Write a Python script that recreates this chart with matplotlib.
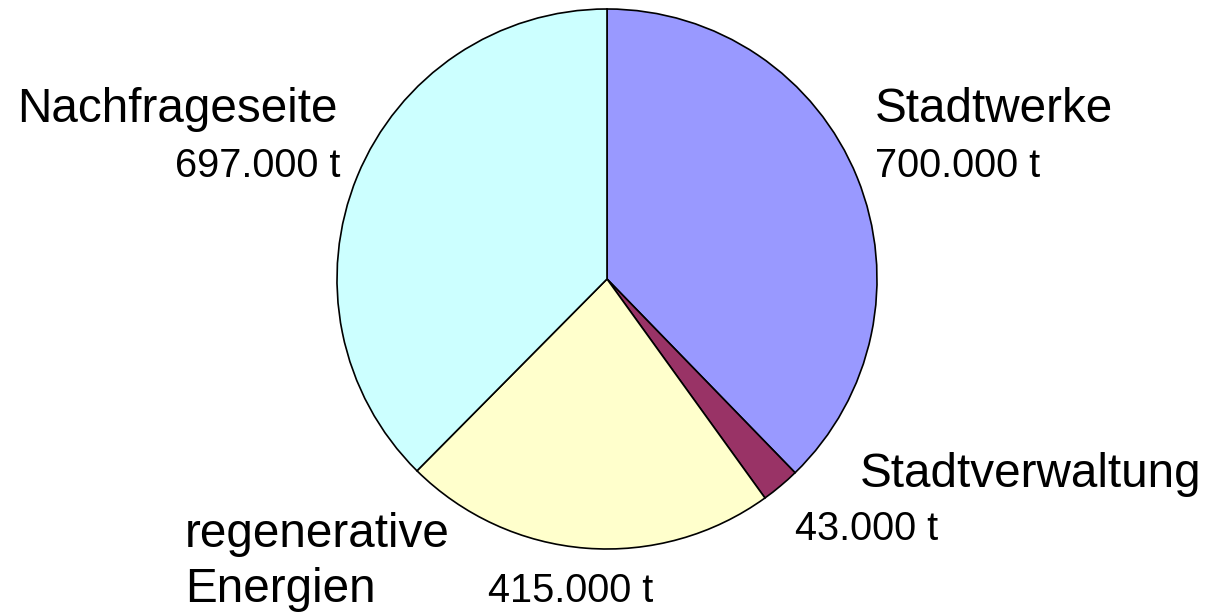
import matplotlib
matplotlib.use("Agg")
import matplotlib.pyplot as plt

categories = ["Stadtwerke", "Stadtverwaltung", "regenerative\nEnergien", "Nachfrageseite"]
values = [700000, 43000, 415000, 697000]
value_labels = ["700.000 t", "43.000 t", "415.000 t", "697.000 t"]
colors = ["#9999FF", "#993366", "#FFFFCC", "#CCFFFF"]

W, H = 1208, 614
fig = plt.figure(figsize=(W / 100, H / 100), dpi=100)
ax = fig.add_axes([0, 0, 1, 1])
plt.rcParams['font.family'] = ['Liberation Sans', 'DejaVu Sans']

ax.pie(values, colors=colors, startangle=90, counterclock=False,
       center=(607, H - 279), radius=270,
       wedgeprops=dict(edgecolor="black", linewidth=1.2))
ax.set_xlim(0, W)
ax.set_ylim(0, H)
ax.set_aspect("equal")
ax.axis("off")

# label layout (pixel positions from top-left: x, baseline y, ha)
name_pos = [(875, 122, "left"), (860, 487, "left"), (185, 547, "left"), (17, 122, "left")]
val_pos = [(875, 177, "left"), (795, 540, "left"), (488, 602, "left"), (340, 177, "right")]

name_fs = 34.3
val_fs = 28.6
for cat, (x, y, ha) in zip(categories, name_pos):
    lines = cat.split("\n")
    for i, ln in enumerate(lines):
        ax.text(x, H - (y + i * 55), ln, fontsize=name_fs, ha=ha, va="baseline",
                family=['Liberation Sans', 'DejaVu Sans'])
for lab, (x, y, ha) in zip(value_labels, val_pos):
    ax.text(x, H - y, lab, fontsize=val_fs, ha=ha, va="baseline",
            family=['Liberation Sans', 'DejaVu Sans'])

fig.savefig("out.png", dpi=100)
